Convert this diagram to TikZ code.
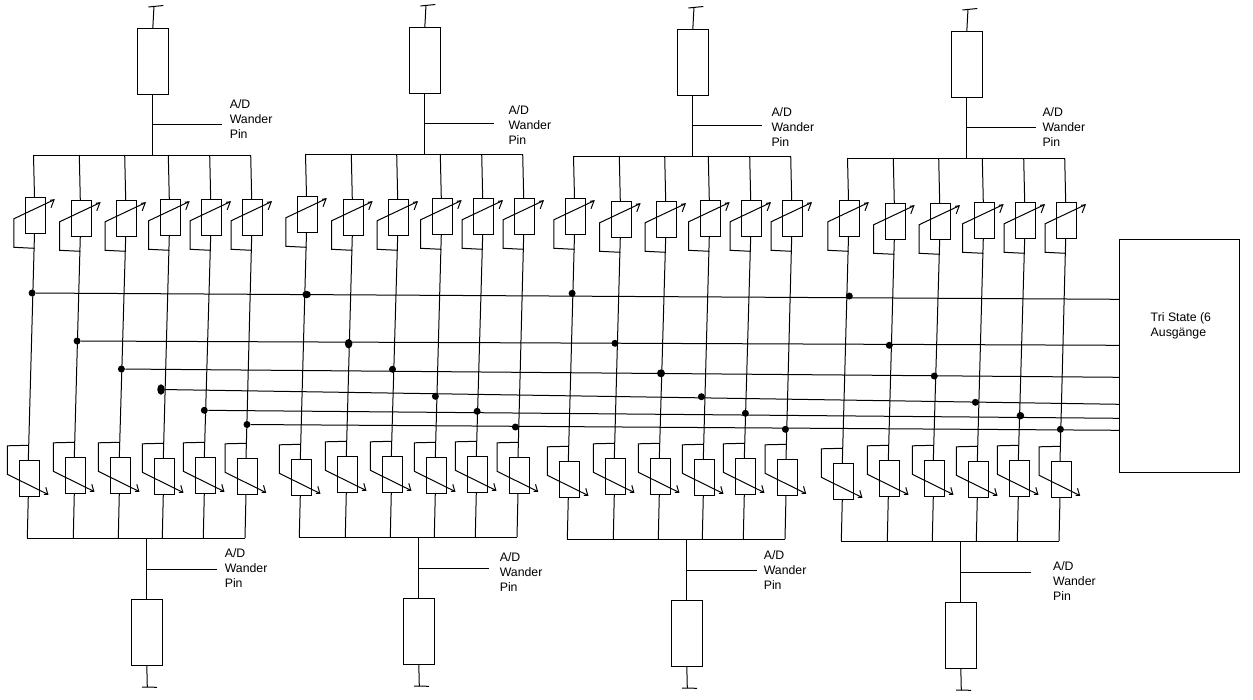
\documentclass[tikz,border=0pt]{standalone}
\usepackage{fontspec}
\setmainfont{Liberation Sans}
\usetikzlibrary{shapes.geometric}

\begin{document}
\begin{tikzpicture}[x=1pt,y=-1pt,line width=1pt,
	resistor/.style={draw,minimum width=20pt,minimum height=36pt,inner sep=0pt,outer sep=0pt},
	pull/.style={draw,minimum width=31pt,minimum height=66pt,inner sep=0pt,outer sep=0pt},
	bigbox/.style={draw,minimum width=120pt,minimum height=233pt,inner sep=0pt,outer sep=0pt},
	junction/.style={ellipse,fill=black,inner sep=0pt},
	pinlabel/.style={anchor=west,align=left,inner sep=0pt,font=\fontsize{12.3}{15}\selectfont}]
	
	\useasboundingbox (0,0) rectangle (1253,699);
	
	\foreach \g/\dx/\dy in {1/0/0,2/272/-1,3/540/1,4/814/3}{
		\node[pull] (pullT\g) at (152.8+\dx,61.3+\dy) {};
		\node[pull] (pullB\g) at (146.8+\dx,632.3+\dy) {};
		\coordinate (vccT\g) at (154+\dx,6+\dy);
		\coordinate (vccB\g) at (147.3+\dx,687+\dy);
		\coordinate (busTL\g) at (33.5+\dx,155+\dy);
		\coordinate (busTR\g) at (250.7+\dx,155+\dy);
		\coordinate (busBL\g) at (27.3+\dx,538+\dy);
		\coordinate (busBR\g) at (245+\dx,538+\dy);
		\coordinate (tapT\g) at (152.8+\dx,124.3+\dy);
		\coordinate (pinT\g) at (222.3+\dx,124.3+\dy);
		\coordinate (tapB\g) at (146.8+\dx,569+\dy);
		\coordinate (pinB\g) at (216.7+\dx,569+\dy);
		
		\draw (pullT\g.north) -- (vccT\g);
		\draw ([shift={(-5.7,1)}]vccT\g) -- ([shift={(9.3,-0.5)}]vccT\g);
		\draw (pullT\g.south) -- (pullT\g.south |- busTL\g);
		\draw (busTL\g) -- (busTR\g);
		\draw (tapT\g) -- (pinT\g);
		\draw (pullB\g.south) -- (vccB\g);
		\draw ([shift={(-5.3,0)}]vccB\g) -- ([shift={(9.7,0.3)}]vccB\g);
		\draw (pullB\g.north) -- (pullB\g.north |- busBL\g);
		\draw (busBL\g) -- (busBR\g);
		\draw (tapB\g) -- (pinB\g);
		
		\foreach \c/\xt/\yt/\xb/\yb in {1/33.5/197.3/27.3/460.3,2/79.3/200.3/73.3/457.3,3/124.7/200.3/118.3/457.3,
			4/168.3/199.3/162.3/458.3,5/209.7/199.3/203.3/457.3,6/250.7/199.3/245/458.3}{
			\node[resistor] (T\g\c) at (\xt+\dx+2,\yt+\dy+18) {};
			\node[resistor] (B\g\c) at (\xb+\dx+2,\yb+\dy+18) {};
			\coordinate (railT\g\c) at (\xt+\dx,155+\dy);
			\coordinate (railB\g\c) at (\xb+\dx,538+\dy);
			
			\draw (railT\g\c) -- ([xshift=-1pt]T\g\c.north);
			\draw ([xshift=-1pt]T\g\c.south) -- ([xshift=-1pt]B\g\c.north);
			\draw ([xshift=-1pt]B\g\c.south) -- (railB\g\c);
			
			\draw ([shift={(-1,33)}]T\g\c.center) -- ([shift={(-21.7,32)}]T\g\c.center)
				-- ([shift={(-21.7,3.5)}]T\g\c.center) -- ([shift={(18.5,-15.5)}]T\g\c.center);
			\draw ([shift={(14.5,-15)}]T\g\c.center) -- ([shift={(18.5,-15.5)}]T\g\c.center)
				-- ([shift={(15.5,-7.5)}]T\g\c.center);
			
			\draw ([shift={(-1,-33)}]B\g\c.center) -- ([shift={(-22,-32.5)}]B\g\c.center)
				-- ([shift={(-22,-4)}]B\g\c.center) -- ([shift={(18.5,16)}]B\g\c.center);
			\draw ([shift={(14.5,16)}]B\g\c.center) -- ([shift={(18.5,16)}]B\g\c.center)
				-- ([shift={(16.5,9)}]B\g\c.center);
		}
	}
	
	\foreach \n/\px/\py/\w/\h in {a1/32.1/293/7/7,a2/306.6/294.5/8.5/7.5,a3/572.1/293.3/7/7,a4/849.3/296/7/7,
		b1/77.1/341/7/7,b2/348.6/343.7/7.5/9.5,b3/615/343.3/7/7,b4/889.3/345.3/7/7,
		c1/121.4/369/7/7,c2/392.5/369.3/7/7,c3/661/373.3/8/8,c4/934.3/376/7/7,
		d1/161/389.5/7.5/10.5,d2/435.4/396.3/7/7,d3/701.4/396.7/7/7,d4/975.4/402.3/7/7,
		e1/204.3/410.3/7/7,e2/477.1/411.3/7/7,e3/745.4/413.3/7/7,e4/1020.4/415.7/7.5/7.5,
		f1/247/424.5/7/7,f2/515.4/427/7/7,f3/785.4/429.3/7/7,f4/1060.4/429.3/7/7}{
		\node[junction,minimum width=\w pt,minimum height=\h pt] (\n) at (\px,\py) {};
	}
	
	\node[bigbox] (tristate) at (1179.3,355.8) {};
	\node[pinlabel] (tristatetext) at (1150.2,326.2) {Tri State (6\\Ausgänge};
	
	\foreach \r/\ye in {a/299.3,b/345.3,c/377.3,d/404.3,e/418.3,f/430.3}{
		\coordinate (end\r) at (tristate.west |- 0,\ye);
		\draw (\r1) -- (end\r);
	}
	
	\foreach \n/\px/\py in {T1/229.3/118.7,T2/508/124.7,T3/771/126.7,T4/1042/126.7,
		B1/224.3/567.7,B2/499.3/571.7,B3/763.3/570,B4/1052.6/580.7}{
		\node[pinlabel] (label\n) at (\px,\py) {A/D\\Wander\\Pin};
	}
	
\end{tikzpicture}
\end{document}
